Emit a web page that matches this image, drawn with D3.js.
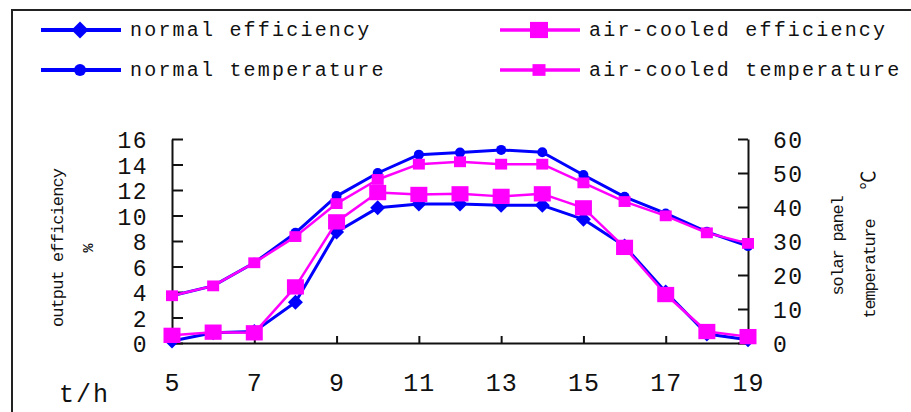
<!DOCTYPE html>
<html>
<head>
<meta charset="utf-8">
<script src="https://cdn.jsdelivr.net/npm/d3@7"></script>
<style>
  html, body { margin: 0; padding: 0; background: #fff; }
  svg { display: block; }
  text { font-family: "Liberation Mono", "DejaVu Sans Mono", monospace; fill: #111; }
</style>
</head>
<body>
<svg id="chart" width="911" height="412"></svg>
<script>
// Hours of the day
const hours = [5, 6, 7, 8, 9, 10, 11, 12, 13, 14, 15, 16, 17, 18, 19];

// Output efficiency (%)
const normalEfficiency   = [0.15, 0.8, 0.9, 3.2, 8.7, 10.6, 10.9, 10.9, 10.8, 10.8, 9.7, 7.6, 4.0, 0.7, 0.25];
const airCooledEfficiency = [0.6, 0.85, 0.8, 4.4, 9.5, 11.8, 11.65, 11.7, 11.5, 11.7, 10.6, 7.5, 3.8, 0.9, 0.5];

// Solar panel temperature (°C)
const normalTemperature   = [13.9, 16.8, 23.6, 32.4, 43.2, 50.0, 55.4, 56.0, 56.8, 56.1, 49.4, 43.0, 38.1, 32.7, 28.5];
const airCooledTemperature = [13.9, 16.8, 23.6, 31.3, 41.0, 48.1, 52.6, 53.3, 52.6, 52.6, 47.1, 41.6, 37.4, 32.4, 29.3];

// Tick labels
const hourTicks = [5, 7, 9, 11, 13, 15, 17, 19];
const efficiencyTicks = [0, 2, 4, 6, 8, 10, 12, 14, 16];
const temperatureTicks = [0, 10, 20, 30, 40, 50, 60];

const svg = d3.select("#chart");

// Outer frame (top and left edges visible)
svg.append("path")
  .attr("d", "M12,412 L12,10 L911,10")
  .attr("fill", "none")
  .attr("stroke", "#222")
  .attr("stroke-width", 2);

const x = d3.scaleLinear().domain([5, 19]).range([172, 748]);
const yL = d3.scaleLinear().domain([0, 16]).range([343, 139]);
const yR = d3.scaleLinear().domain([0, 60]).range([343, 139]);

function styleAxis(g, size, spacing) {
  g.select(".domain").attr("stroke", "#111").attr("stroke-width", 2);
  g.selectAll(".tick line").attr("stroke", "#111").attr("stroke-width", 2);
  g.selectAll(".tick text")
    .style("font-family", "'Liberation Mono', monospace")
    .style("font-size", size + "px")
    .style("letter-spacing", spacing + "px")
    .attr("fill", "#111");
}

// Left axis: efficiency
const gL = svg.append("g").attr("transform", `translate(${x(5)},0)`)
  .call(d3.axisLeft(yL).tickValues(efficiencyTicks).tickSizeInner(-11).tickSizeOuter(0).tickPadding(24));
styleAxis(gL, 23, 1.5);
gL.selectAll(".tick text").attr("dy", "0.38em");

// Right axis: temperature
const gR = svg.append("g").attr("transform", `translate(${x(19)},0)`)
  .call(d3.axisRight(yR).tickValues(temperatureTicks).tickSizeInner(-10).tickSizeOuter(0).tickPadding(25));
styleAxis(gR, 23, 1.5);
gR.selectAll(".tick text").attr("dy", "0.38em");

// Bottom axis: hours
const gB = svg.append("g").attr("transform", `translate(0,${yL(0)})`)
  .call(d3.axisBottom(x).tickValues(hourTicks).tickSizeInner(-7).tickSizeOuter(0).tickPadding(30).tickFormat(d3.format("d")));
styleAxis(gB, 25, 1);

// Axis titles
svg.append("text")
  .attr("transform", "translate(63,248) rotate(-90)")
  .attr("text-anchor", "middle")
  .style("font-size", "17px")
  .style("letter-spacing", "-0.9px")
  .text("output efficiency");
svg.append("text")
  .attr("transform", "translate(93,248) rotate(-90)")
  .attr("text-anchor", "middle")
  .style("font-size", "15px")
  .style("font-weight", "bold")
  .text("%");

svg.append("text")
  .attr("transform", "translate(843,246) rotate(-90)")
  .attr("text-anchor", "middle")
  .style("font-size", "17px")
  .style("letter-spacing", "-1.2px")
  .text("solar panel");
svg.append("text")
  .attr("transform", "translate(875,269) rotate(-90)")
  .attr("text-anchor", "middle")
  .style("font-size", "17px")
  .style("letter-spacing", "-1.2px")
  .text("temperature");
svg.append("text")
  .attr("transform", "translate(875,180) rotate(-90)")
  .attr("text-anchor", "middle")
  .style("font-family", "'Noto Sans CJK SC', sans-serif")
  .style("font-size", "19px")
  .text("℃");

svg.append("text")
  .attr("x", 59).attr("y", 402)
  .style("font-size", "25px")
  .style("letter-spacing", "2px")
  .text("t/h");

// Series definitions
const series = [
  { name: "normal efficiency", values: normalEfficiency, y: yL, color: "#0000ff", width: 3, marker: "diamond", size: 15 },
  { name: "normal temperature", values: normalTemperature, y: yR, color: "#0000ff", width: 3, marker: "circle", size: 10 },
  { name: "air-cooled efficiency", values: airCooledEfficiency, y: yL, color: "#ff00ff", width: 2.5, marker: "square", size: 17 },
  { name: "air-cooled temperature", values: airCooledTemperature, y: yR, color: "#ff00ff", width: 2.5, marker: "square", size: 12 }
];

function drawMarker(g, type, size, color) {
  const h = size / 2;
  if (type === "diamond") {
    g.append("path").attr("d", `M0,${-h} L${h},0 L0,${h} L${-h},0 Z`).attr("fill", color);
  } else if (type === "circle") {
    g.append("circle").attr("r", h).attr("fill", color);
  } else {
    g.append("rect").attr("x", -h).attr("y", -h * 0.9).attr("width", size).attr("height", size * 0.9).attr("fill", color);
  }
}

const plot = svg.append("g");
series.forEach(s => {
  const pts = hours.map((h, i) => [x(h), s.y(s.values[i])]);
  plot.append("path")
    .attr("d", d3.line()(pts))
    .attr("fill", "none")
    .attr("stroke", s.color)
    .attr("stroke-width", s.width)
    .attr("stroke-linejoin", "round");
  pts.forEach(p => {
    const m = plot.append("g").attr("transform", `translate(${p[0]},${p[1]})`);
    drawMarker(m, s.marker, s.size, s.color);
  });
});

// Legend
const legendItems = [
  { s: series[0], lx: 41, ly: 30 },
  { s: series[1], lx: 41, ly: 70 },
  { s: series[2], lx: 500, ly: 30 },
  { s: series[3], lx: 500, ly: 70 }
];
legendItems.forEach(({ s, lx, ly }) => {
  const g = svg.append("g").attr("transform", `translate(${lx},${ly})`);
  g.append("line").attr("x1", 0).attr("x2", 80).attr("y1", 0).attr("y2", 0)
    .attr("stroke", s.color).attr("stroke-width", s.width + 1);
  const m = g.append("g").attr("transform", "translate(39,0)");
  drawMarker(m, s.marker, s.marker === "square" ? s.size + 1 : s.size + 2, s.color);
  g.append("text")
    .attr("x", 89).attr("y", 0).attr("dy", "0.32em")
    .style("font-size", "20px")
    .style("letter-spacing", "2.2px")
    .text(s.name);
});
</script>
</body>
</html>
